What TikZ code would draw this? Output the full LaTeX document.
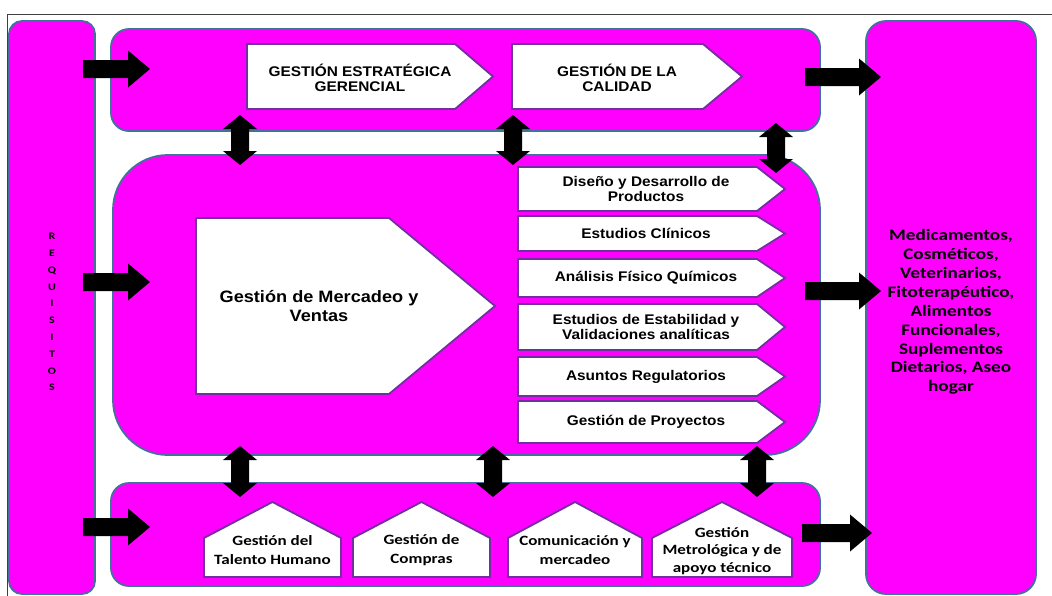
\documentclass[tikz,border=0pt]{standalone}
\usepackage{fontspec}
\newfontfamily\arialfont[FakeStretch=1.1]{Liberation Sans}
\newfontfamily\calfont[FakeStretch=1.2]{Carlito}

\definecolor{bandfill}{RGB}{255,0,255}
\definecolor{bandline}{RGB}{65,113,156}
\definecolor{boxline}{RGB}{112,48,160}

\tikzset{
  band/.style={fill=bandfill, draw=bandline, line width=1.8pt},
  procbox/.style={fill=white, draw=boxline, line width=1.8pt, line join=miter},
  blockarrow/.style={fill=black, draw=none},
  toptext/.style={align=center, inner sep=0pt,
    font=\arialfont\bfseries\fontsize{14}{14.7}\selectfont},
  rowtext/.style={align=center, inner sep=0pt,
    font=\arialfont\bfseries\fontsize{14}{14.7}\selectfont},
  bigtext/.style={align=center, inner sep=0pt,
    font=\arialfont\bfseries\fontsize{16.5}{19}\selectfont},
  lowtext/.style={align=center, inner sep=0pt,
    font=\calfont\bfseries\fontsize{14.2}{18.5}\selectfont},
  outtext/.style={align=center, inner sep=0pt,
    font=\calfont\bfseries\fontsize{16}{18.9}\selectfont},
  reqtext/.style={align=center, inner sep=0pt,
    font=\calfont\bfseries\fontsize{10}{16.8}\selectfont},
}

% horizontal block arrow: from x=#1 to tip x=#2 at height #3
\newcommand{\hblock}[3]{%
  \fill[blockarrow] (#1,#3-9) -- (#2-22,#3-9) -- (#2-22,#3-18.5) -- (#2,#3)
    -- (#2-22,#3+18.5) -- (#2-22,#3+9) -- (#1,#3+9) -- cycle;}
% vertical double block arrow at x=#1 between tips y=#2 and y=#3
\newcommand{\vblock}[3]{%
  \fill[blockarrow] (#1,#2) -- (#1+17,#2+14) -- (#1+9,#2+14) -- (#1+9,#3-14)
    -- (#1+17,#3-14) -- (#1,#3) -- (#1-17,#3-14) -- (#1-9,#3-14)
    -- (#1-9,#2+14) -- (#1-17,#2+14) -- cycle;}
% process box pointing right: left x, shoulder x, tip x, top y, bottom y
\newcommand{\rpent}[5]{%
  \draw[procbox] (#1,#4) -- (#2,#4) -- (#3,{(#4+#5)/2}) -- (#2,#5)
    -- (#1,#5) -- cycle;}
% process box pointing up: left x, right x, apex y, shoulder y, bottom y
\newcommand{\upent}[5]{%
  \draw[procbox] (#1,#5) -- (#1,#4) -- ({(#1+#2)/2},#3) -- (#2,#4)
    -- (#2,#5) -- cycle;}

\begin{document}
\begin{tikzpicture}[x=1pt, y=-1pt]
\useasboundingbox (0,0) rectangle (1052,595);

% outer frame
\draw[line width=0.8pt, black!75] (7,600) -- (7,14) -- (1060,14);

% side columns
\draw[band, rounded corners=13pt] (9,21) rectangle (95,594);
\draw[band, rounded corners=20pt] (866,21) rectangle (1036,594);

% process bands
\draw[band, rounded corners=18pt] (111,29) rectangle (820,131);
\draw[band, rounded corners=55pt] (113,155) rectangle (820,455);
\draw[band, rounded corners=18pt] (111,483) rectangle (820,586);

% strategic band
\rpent{247}{455}{493}{44}{109}
\rpent{512}{703}{742}{44}{109}
\node[toptext] (tGE) at (360,78) {GESTIÓN ESTRATÉGICA\\GERENCIAL};
\node[toptext] (tGC) at (617,78) {GESTIÓN DE LA\\CALIDAD};

% core band
\rpent{196}{389}{495}{218}{394}
\node[bigtext] (tMV) at (319,306) {Gestión de Mercadeo y\\Ventas};

\rpent{518}{757}{785}{167}{211}
\rpent{518}{757}{785}{216}{251}
\rpent{518}{757}{785}{259}{297}
\rpent{518}{757}{785}{304}{350}
\rpent{518}{757}{785}{357}{396}
\rpent{518}{757}{785}{401}{443}
\node[rowtext] (tDD) at (646,189) {Diseño y Desarrollo de\\Productos};
\node[rowtext] (tEC) at (646,233.5) {Estudios Clínicos};
\node[rowtext] (tAF) at (646,278) {Análisis Físico Químicos};
\node[rowtext] (tEE) at (646,327) {Estudios de Estabilidad y\\Validaciones analíticas};
\node[rowtext] (tAR) at (646,376.5) {Asuntos Regulatorios};
\node[rowtext] (tGP) at (646,422) {Gestión de Proyectos};

% support band
\upent{204}{341}{502}{538}{577}
\upent{353}{490}{502}{538}{577}
\upent{508}{642}{502}{538}{577}
\upent{652}{792}{502}{538}{577}
\node[lowtext] (tTH) at (272.5,550) {Gestión del\\Talento Humano};
\node[lowtext] (tCO) at (421.5,550) {Gestión de\\Compras};
\node[lowtext] (tCM) at (575,550) {Comunicación y\\mercadeo};
\node[lowtext, font=\calfont\bfseries\fontsize{14.2}{17.5}\selectfont]
  (tGM) at (722,551) {Gestión\\Metrológica y de\\apoyo técnico};

% column labels
\node[reqtext] (tREQ) at (52,312) {R\\E\\Q\\U\\I\\S\\I\\T\\O\\S};
\node[outtext] (tOUT) at (951,312) {Medicamentos,\\Cosméticos,\\Veterinarios,\\Fitoterapéutico,\\Alimentos\\Funcionales,\\Suplementos\\Dietarios, Aseo\\hogar};

% inputs
\hblock{83}{150}{69}
\hblock{83}{150}{282}
\hblock{83}{150}{527}
% outputs
\hblock{805}{881}{77}
\hblock{805}{881}{291}
\hblock{802}{872}{533}
% links between bands
\vblock{240}{115}{165}
\vblock{513}{115}{165}
\vblock{776}{123}{173}
\vblock{240}{446}{497}
\vblock{493}{446}{497}
\vblock{757}{446}{497}
\end{tikzpicture}
\end{document}
